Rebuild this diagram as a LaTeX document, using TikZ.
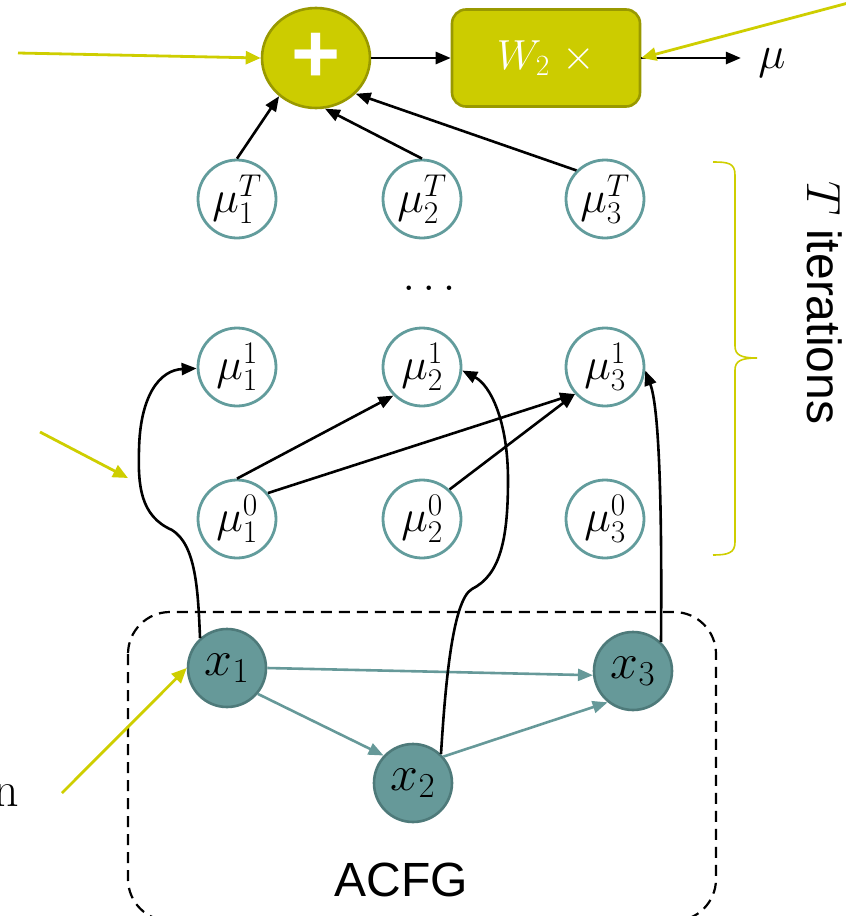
\RequirePackage{fix-cm}
\documentclass[tikz,border=0pt]{standalone}
\usepackage{fontspec}
\setsansfont{Liberation Sans}
\usetikzlibrary{arrows.meta,shapes.geometric}

\definecolor{accfill}{RGB}{204,204,0}
\definecolor{accedge}{RGB}{153,153,0}
\definecolor{accline}{RGB}{206,206,0}
\definecolor{nodefill}{RGB}{102,153,153}
\definecolor{nodeedge}{RGB}{78,122,122}
\definecolor{ringedge}{RGB}{98,156,156}

\newcommand\fsz[1]{\fontsize{#1}{#1}\selectfont}

\begin{document}
\begin{tikzpicture}[x=1pt,y=-1pt,
  blk/.style={draw=black,line width=2.6pt,-{Triangle[length=15pt,width=12pt]}},
  tl/.style={draw=nodefill,line width=2.6pt,-{Triangle[length=15pt,width=12pt]}},
  yarr/.style={draw=accline,line width=2.8pt,-{Triangle[length=15pt,width=13pt]}},
  state/.style={circle,draw=ringedge,fill=white,line width=2.8pt,
    minimum size=78pt,inner sep=0pt,font=\fsz{45}},
  inp/.style={circle,draw=nodeedge,fill=nodefill,line width=2.6pt,
    minimum size=78pt,inner sep=0pt,font=\fsz{50}},
  sumnode/.style={ellipse,draw=accedge,fill=accfill,line width=2.6pt,
    minimum width=108pt,minimum height=100pt,inner sep=0pt},
  opbox/.style={rectangle,rounded corners=14pt,draw=accedge,fill=accfill,
    line width=2.6pt,minimum width=188pt,minimum height=97pt,inner sep=0pt,
    text=white,font=\fsz{42}}
]
\path[use as bounding box] (0,0) rectangle (846,916);

% summation and output transform
\node[sumnode] (plus) at (316,58) {\textcolor{white}{\fsz{84}\sffamily\bfseries +}};
\node[opbox] (w2) at (546,58) {$W_2\ \times$};
\node[font=\fsz{46}] (mu) at (772,63) {$\mu$};

% embedding states per iteration
\node[state] (m1T) at (237,199) {$\mu_1^T$};
\node[state] (m2T) at (422,199) {$\mu_2^T$};
\node[state] (m3T) at (605,199) {$\mu_3^T$};
\node[font=\fsz{46}] (dots) at (429,288) {$\dots$};
\node[state] (m11) at (237,367) {$\mu_1^1$};
\node[state] (m21) at (422,367) {$\mu_2^1$};
\node[state] (m31) at (605,367) {$\mu_3^1$};
\node[state] (m10) at (237,519) {$\mu_1^0$};
\node[state] (m20) at (422,519) {$\mu_2^0$};
\node[state] (m30) at (605,519) {$\mu_3^0$};

% graph container
\draw[line width=2.2pt,dash pattern=on 11pt off 7pt,rounded corners=42pt]
  (128,612) rectangle (716,921);
\node[font=\fsz{48}\sffamily] (acfg) at (401,880) {ACFG};

% graph vertices
\node[inp] (x1) at (227,668) {$x_1$};
\node[inp] (x2) at (413,783) {$x_2$};
\node[inp] (x3) at (633,671) {$x_3$};

% graph edges
\draw[tl] (x1.0) -- (x3.186);
\draw[tl] (x1.-40) -- (x2.137);
\draw[tl] (x2.41) -- (x3.231);

% vertex features feeding the first iteration
\draw[blk] (x1.132) .. controls (198,590) and (196,545) .. (172,530)
  .. controls (140,516) and (138,485) .. (139,450)
  .. controls (140,395) and (160,370) .. (m11.182);
\draw[blk] (x2.46) .. controls (445,690) and (452,600) .. (472,589)
  .. controls (500,575) and (508,540) .. (508,480)
  .. controls (508,420) and (490,385) .. (m21.-5);
\draw[blk] (x3.46) .. controls (662,520) and (660,410) .. (m31.-5);

% neighbour aggregation
\draw[blk] (m10.north) -- (m21.225);
\draw[blk] (m10.40) -- (m31.222);
\draw[blk] (m20.47) -- (m31.222);

% final states summed
\draw[blk] (m1T.north) -- (plus.226);
\draw[blk] (m2T.north) -- (plus.280);
\draw[blk] (m3T.135) -- (plus.318);
\draw[blk] (plus.east) -- (w2.west);
\draw[blk,shorten >=14pt] (w2.east) -- (w2.east -| mu.west);

% incoming pointers
\coordinate (pa) at (18,53);
\coordinate (pb) at (852,2);
\coordinate (pc0) at (40,432);
\coordinate (pc1) at (128,478);
\coordinate (pd) at (62,793);
\draw[yarr] (pa) -- (plus.west);
\draw[yarr] (pb) -- (w2.east);
\draw[yarr] (pc0) -- (pc1);
\draw[yarr] (pd) -- (x1.west);
\node[anchor=base east,inner sep=0pt,font=\fsz{50}] (fn) at (19,806) {n};

% iteration brace
\draw[accline,line width=1.6pt] (713,162) .. controls (728,162) and (735,163) .. (735,175)
  -- (735,346) .. controls (735,355) and (741,358) .. (757,358)
  .. controls (741,358) and (735,361) .. (735,370)
  -- (735,542) .. controls (735,553) and (728,555) .. (713,555);
\node[rotate=-90,font=\fsz{48}\sffamily] (iter) at (825,303) {$T$ iterations};
\end{tikzpicture}
\end{document}
